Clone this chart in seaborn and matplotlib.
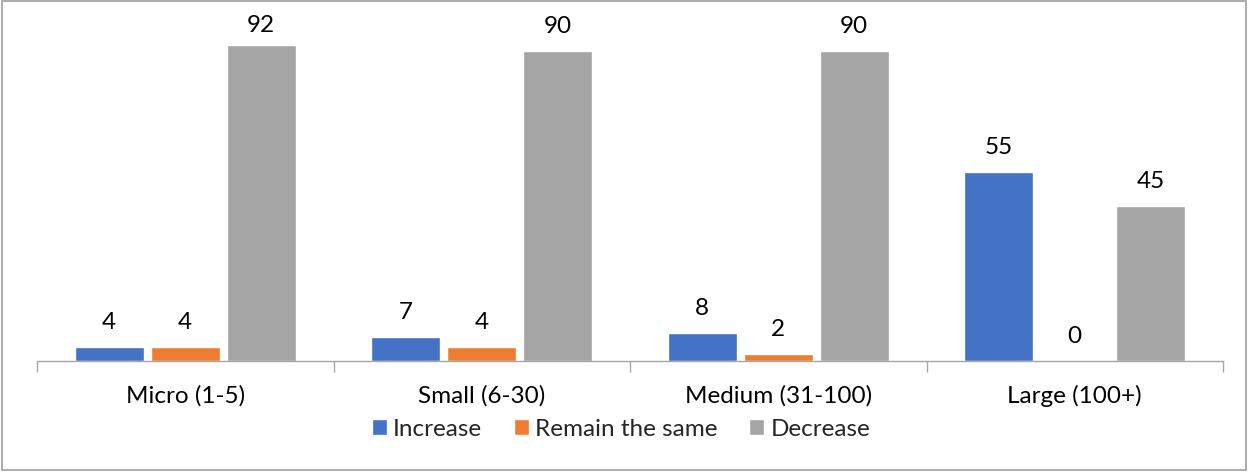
import matplotlib
matplotlib.use("Agg")
import matplotlib.pyplot as plt
from matplotlib.patches import Rectangle
import pandas as pd
import seaborn as sns

# Survey results by enterprise size (percent of respondents)
categories = ["Micro (1-5)", "Small (6-30)", "Medium (31-100)", "Large (100+)"]
series_names = ["Increase", "Remain the same", "Decrease"]
increase = [4, 7, 8, 55]
remain_same = [4, 4, 2, 0]
decrease = [92, 90, 90, 45]
colors = ["#4472C4", "#ED7D31", "#A5A5A5"]

rows = []
for name, vals in zip(series_names, [increase, remain_same, decrease]):
    for cat, v in zip(categories, vals):
        rows.append({"size": cat, "change": name, "pct": v})
df = pd.DataFrame(rows)

sns.set_theme(style="white")
plt.rcParams["font.family"] = ["Lato", "DejaVu Sans"]
FS = 17.5

W, H = 1250, 472
fig = plt.figure(figsize=(W / 100, H / 100), dpi=100)
ax = fig.add_axes([37 / W, 1 - 361 / H, (1223 - 37) / W, (361 - 17) / H])

sns.barplot(data=df, x="size", y="pct", hue="change", order=categories,
            hue_order=series_names, palette=colors, saturation=1,
            width=0.769, gap=0.092, ax=ax, errorbar=None, legend=True)

ax.set_ylim(0, 100)
ax.set_xlim(-0.5, len(categories) - 0.5)

# value labels above each bar
px_per_unit = (361 - 17) / 100
lab_off = 18 / px_per_unit
for cont, name in zip(ax.containers, series_names):
    for bar, v in zip(cont, df[df["change"] == name]["pct"]):
        xc = bar.get_x() + bar.get_width() / 2
        y = min(v + lab_off, 95.6)
        ax.text(xc, y, f"{v:g}", ha="center", va="baseline", fontsize=FS,
                color="black")

for s in ["top", "left", "right"]:
    ax.spines[s].set_visible(False)
ax.spines["bottom"].set_color("#A6A6A6")
ax.spines["bottom"].set_linewidth(1.0)
ax.set_yticks([])
ax.set_xlabel("")
ax.set_ylabel("")
ax.set_xticks(range(len(categories)))
ax.set_xticklabels(categories, fontsize=FS, color="black")
ax.set_xticks([i - 0.5 for i in range(len(categories) + 1)], minor=True)
ax.tick_params(axis="x", which="major", length=0, pad=17)
ax.tick_params(axis="x", which="minor", length=8, width=1.0, color="#A6A6A6",
               direction="out", bottom=True)

handles, labels = ax.get_legend_handles_labels()
ax.legend_.remove()
fig.legend(handles, labels, loc="center", bbox_to_anchor=(621 / W, 1 - 429 / H),
           ncol=3, frameon=False, fontsize=FS, handlelength=0.62,
           handleheight=0.62, handletextpad=0.25, columnspacing=1.3,
           borderpad=0, borderaxespad=0)

fig.patches.append(Rectangle((2 / W, 1 - 470 / H), (1246 - 2) / W, (470 - 1) / H,
                             transform=fig.transFigure, fill=False,
                             edgecolor="#A6A6A6", linewidth=1.3))

fig.savefig("out.png", dpi=100)
